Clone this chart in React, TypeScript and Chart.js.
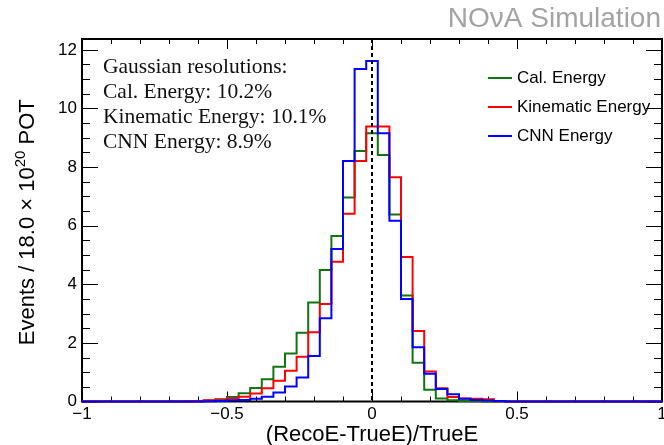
import { useEffect, useRef } from 'react';
import { Chart, registerables } from 'chart.js';
Chart.register(...registerables);

// ---- data ----
const binCenters = [-0.60, -0.56, -0.52, -0.48, -0.44, -0.40, -0.36, -0.32, -0.28, -0.24, -0.20, -0.16, -0.12, -0.08, -0.04, 0.0, 0.04, 0.08, 0.12, 0.16, 0.20, 0.24, 0.28, 0.32, 0.36, 0.40, 0.44];
const calEnergy = [0.01, 0.03, 0.08, 0.15, 0.28, 0.46, 0.76, 1.19, 1.64, 2.35, 3.38, 4.49, 5.65, 6.96, 8.55, 9.15, 8.41, 6.38, 3.62, 1.32, 0.40, 0.10, 0.04, 0.02, 0.01, 0.0, 0.0];
const kinematicEnergy = [0.02, 0.04, 0.06, 0.10, 0.16, 0.27, 0.45, 0.71, 1.05, 1.53, 2.36, 3.33, 4.77, 6.41, 8.21, 9.38, 9.38, 7.65, 4.93, 2.41, 1.02, 0.45, 0.15, 0.10, 0.09, 0.08, 0.01];
const cnnEnergy = [0.0, 0.01, 0.02, 0.04, 0.05, 0.09, 0.16, 0.31, 0.51, 0.82, 1.55, 2.84, 5.20, 8.21, 11.35, 11.62, 9.15, 6.17, 3.50, 1.85, 0.95, 0.43, 0.25, 0.09, 0.05, 0.03, 0.02];
const seriesLabels = ['Cal. Energy', 'Kinematic Energy', 'CNN Energy'];
const seriesColors = ['#127312', '#ff0000', '#0000ff'];
const xTickValues = [-1, -0.5, 0, 0.5, 1];
const yTickValues = [0, 2, 4, 6, 8, 10, 12];
const resolutionLines = ['Gaussian resolutions:', 'Cal. Energy: 10.2%', 'Kinematic Energy: 10.1%', 'CNN Energy: 8.9%'];
const xTitle = '(RecoE-TrueE)/TrueE';
const yTitleBase = 'Events / 18.0 \u00d7 10';
const yTitleSup = '20';
const yTitleTail = ' POT';
const watermark = 'NO\u03bdA Simulation';

const BIN_WIDTH = 0.04;
const X_MIN = -1, X_MAX = 1, Y_MIN = 0, Y_MAX = 12.37;
const SANS = '"Liberation Sans", Arial, sans-serif';
const SERIF = '"Liberation Serif", "Times New Roman", serif';

// Each point sits at the right edge of a bin and carries that bin's value;
// Chart.js 'after' stepping rises at the previous x, then runs horizontally.
function toSteps(values: number[]) {
  const out: { x: number; y: number }[] = [{ x: X_MIN, y: 0 }];
  out.push({ x: binCenters[0] - BIN_WIDTH / 2, y: 0 });
  binCenters.forEach((c, i) => out.push({ x: c + BIN_WIDTH / 2, y: values[i] }));
  out.push({ x: X_MAX, y: 0 });
  return out;
}

function fmt(v: number) {
  return v < 0 ? '\u2212' + String(Math.abs(v)) : String(v);
}

const framePlugin = {
  id: 'frameTicks',
  beforeDatasetsDraw(chart: any) {
    const { ctx, chartArea } = chart;
    const { left, right, top, bottom } = chartArea;
    const xs = chart.scales.x, ys = chart.scales.y;
    ctx.save();
    ctx.strokeStyle = '#000';
    ctx.lineWidth = 1;
    ctx.beginPath();
    for (let i = -10; i <= 10; i++) {
      const px = Math.round(xs.getPixelForValue(i / 10)) + 0.5;
      const len = i % 5 === 0 ? 10 : 5;
      ctx.moveTo(px, bottom); ctx.lineTo(px, bottom - len);
      ctx.moveTo(px, top); ctx.lineTo(px, top + len);
    }
    for (let i = 0; i / 2 <= Y_MAX; i++) {
      const py = Math.round(ys.getPixelForValue(i / 2)) + 0.5;
      const len = i % 4 === 0 ? 16 : 8;
      ctx.moveTo(left, py); ctx.lineTo(left + len, py);
      ctx.moveTo(right, py); ctx.lineTo(right - len, py);
    }
    ctx.stroke();
    ctx.lineWidth = 2;
    ctx.strokeRect(left, top, right - left, bottom - top);
    ctx.restore();
  },
  afterDatasetsDraw(chart: any) {
    const { ctx, chartArea } = chart;
    const xs = chart.scales.x;
    ctx.save();
    // dashed zero line
    const x0 = xs.getPixelForValue(0);
    ctx.strokeStyle = '#000';
    ctx.lineWidth = 2;
    ctx.setLineDash([4, 3]);
    ctx.beginPath();
    ctx.moveTo(x0, chartArea.top);
    ctx.lineTo(x0, chartArea.bottom);
    ctx.stroke();
    ctx.setLineDash([]);

    // resolution text
    ctx.fillStyle = '#111';
    ctx.font = '21.5px ' + SERIF;
    ctx.textAlign = 'left';
    ctx.textBaseline = 'middle';
    resolutionLines.forEach((t, i) => ctx.fillText(t, 103, 67 + i * 25));

    // legend
    ctx.font = '17px ' + SANS;
    chart.data.datasets.forEach((ds: any, i: number) => {
      const y = 78 + i * 29;
      ctx.strokeStyle = ds.borderColor;
      ctx.lineWidth = 2;
      ctx.beginPath();
      ctx.moveTo(488, y);
      ctx.lineTo(512, y);
      ctx.stroke();
      ctx.fillStyle = '#000';
      ctx.fillText(ds.label, 517, y);
    });

    // watermark
    ctx.fillStyle = '#a3a3a3';
    ctx.font = '28px ' + SANS;
    ctx.textAlign = 'right';
    ctx.textBaseline = 'alphabetic';
    ctx.fillText(watermark, 661, 27);

    // x title
    ctx.fillStyle = '#000';
    ctx.font = '22px ' + SANS;
    ctx.textAlign = 'center';
    ctx.fillText(xTitle, (chartArea.left + chartArea.right) / 2, 441);

    // y title with superscript
    ctx.textAlign = 'left';
    ctx.font = '22px ' + SANS;
    const w1 = ctx.measureText(yTitleBase).width;
    const w3 = ctx.measureText(yTitleTail).width;
    ctx.font = '15px ' + SANS;
    const w2 = ctx.measureText(yTitleSup).width;
    const total = w1 + w2 + w3;
    ctx.translate(34, (chartArea.top + chartArea.bottom) / 2 + 2);
    ctx.rotate(-Math.PI / 2);
    let sx = -total / 2;
    ctx.font = '22px ' + SANS;
    ctx.fillText(yTitleBase, sx, 0);
    sx += w1;
    ctx.font = '15px ' + SANS;
    ctx.fillText(yTitleSup, sx, -9);
    sx += w2;
    ctx.font = '22px ' + SANS;
    ctx.fillText(yTitleTail, sx, 0);
    ctx.restore();
  },
};

export default function App() {
  const ref = useRef<HTMLCanvasElement>(null);
  useEffect(() => {
    if (!ref.current) return;
    const values = [calEnergy, kinematicEnergy, cnnEnergy];
    const chart = new Chart(ref.current, {
      type: 'line',
      data: {
        datasets: values.map((v, i) => ({
          label: seriesLabels[i],
          data: toSteps(v),
          borderColor: seriesColors[i],
          backgroundColor: seriesColors[i],
          borderWidth: 2,
          pointRadius: 0,
          stepped: 'after' as const,
          fill: false,
          clip: false as any,
          order: 3 - i,
        })),
      },
      options: {
        animation: false,
        responsive: false,
        layout: { padding: { left: 0, right: 2, top: 39, bottom: 0 } },
        plugins: { legend: { display: false }, tooltip: { enabled: false } },
        scales: {
          x: {
            type: 'linear',
            min: X_MIN,
            max: X_MAX,
            grid: { display: false, drawTicks: false },
            border: { display: false },
            afterBuildTicks: (s: any) => { s.ticks = xTickValues.map((v) => ({ value: v })); },
            afterFit: (s: any) => { s.height = 43.5; s.paddingLeft = 0; s.paddingRight = 0; },
            ticks: {
              autoSkip: false,
              maxRotation: 0,
              padding: 3,
              color: '#000',
              font: { family: SANS, size: 17 },
              callback: (v: any) => fmt(Number(v)),
            },
          },
          y: {
            type: 'linear',
            min: Y_MIN,
            max: Y_MAX,
            grid: { display: false, drawTicks: false },
            border: { display: false },
            afterBuildTicks: (s: any) => { s.ticks = yTickValues.map((v) => ({ value: v })); },
            afterFit: (s: any) => { s.width = 82; s.paddingTop = 0; s.paddingBottom = 0; },
            ticks: {
              autoSkip: false,
              padding: 5,
              color: '#000',
              font: { family: SANS, size: 17 },
              callback: (v: any) => fmt(Number(v)),
            },
          },
        },
      },
      plugins: [framePlugin],
    });
    return () => chart.destroy();
  }, []);
  return (
    <div style={{ position: 'absolute', left: 0, top: 0, width: 664, height: 445, background: '#fff' }}>
      <canvas ref={ref} width={664} height={445} />
    </div>
  );
}
